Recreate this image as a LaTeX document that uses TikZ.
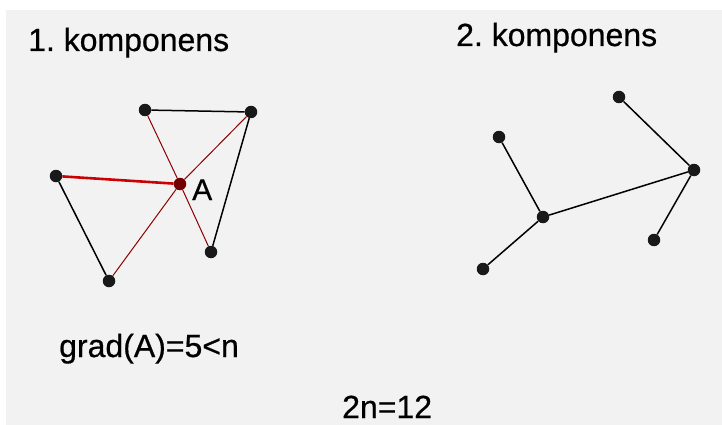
\documentclass[tikz,border=0pt]{standalone}
\usepackage{fontspec}
\setmainfont{Liberation Sans}
\newfontfamily\lblfont[FakeBold=0.6]{Liberation Sans}
\begin{document}
\begin{tikzpicture}[x=1pt,y=-1pt,
  dot/.style={circle,fill=#1,inner sep=0pt,minimum size=12.5pt},
  dot/.default={black!90},
  lbl/.style={anchor=base west,inner sep=0pt,font=\lblfont\fontsize{32}{36}\selectfont},
  blk/.style={black,line width=1.5pt},
  redthin/.style={draw=red!55!black,line width=1pt},
  redthick/.style={draw=red!80!black,line width=2.6pt}]
\useasboundingbox (0,0) rectangle (722,425);
\fill[white] (0,0) rectangle (722,425);
\fill[black!5] (6,10) rectangle (722,425);
% component 1
\node[dot] (p1) at (145,110) {};
\node[dot] (p2) at (251,112) {};
\node[dot] (p3) at (56,176) {};
\node[dot=red!45!black] (a) at (180,184) {};
\node[dot] (p5) at (211,252) {};
\node[dot] (p6) at (109,281) {};
\draw[blk] (p1) -- (p2);
\draw[blk] (p2) -- (p5);
\draw[blk] (p3) -- (p6);
\draw[redthin] (a) -- (p1);
\draw[redthin] (a) -- (p2);
\draw[redthin] (a) -- (p5);
\draw[redthin] (a) -- (p6);
\draw[redthick] (a) -- (p3);
\node[lbl,font=\lblfont\fontsize{30}{34}\selectfont] (la) at (192,200) {A};
% component 2
\node[dot] (q1) at (619,97) {};
\node[dot] (q2) at (499,137) {};
\node[dot] (q3) at (694,170) {};
\node[dot] (q4) at (543,217) {};
\node[dot] (q5) at (654,240) {};
\node[dot] (q6) at (483,269) {};
\draw[blk] (q1) -- (q3);
\draw[blk] (q3) -- (q4);
\draw[blk] (q3) -- (q5);
\draw[blk] (q2) -- (q4);
\draw[blk] (q4) -- (q6);
% texts
\node[lbl] (t1) at (28,51) {1.\hspace{-3pt} komponens};
\node[lbl] (t2) at (456,46) {2.\hspace{-3pt} komponens};
\node[lbl] (t3) at (59,357) {grad(A)=5<n};
\node[lbl] (t4) at (342,418) {2n=12};
\end{tikzpicture}
\end{document}
